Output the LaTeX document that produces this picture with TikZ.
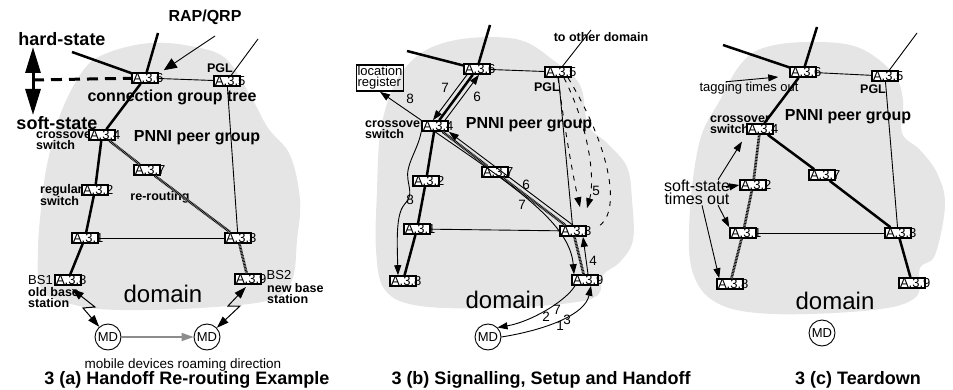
\documentclass[tikz,border=0pt]{standalone}
\usepackage{fontspec}
\setmainfont{Liberation Sans}
\usetikzlibrary{positioning, arrows.meta}
\definecolor{cloud}{RGB}{229,229,229}
\tikzset{
  sw/.style={rectangle, draw=black, line width=1.6pt, fill=white, inner xsep=1pt, inner ysep=0pt, minimum height=10pt, text width=24pt, align=left, font=\fontsize{13}{12}\selectfont},
  mdev/.style={circle, draw=black, line width=0.9pt, fill=white, minimum size=26pt, inner sep=0pt, font=\fontsize{13}{13}\selectfont},
  treeline/.style={line width=2.5pt},
  peer/.style={line width=0.9pt},
  rr/.style={draw=black!35, line width=2.6pt, postaction={draw=black, line width=2.6pt, dash pattern=on 0.7pt off 0.8pt}},
  arr/.style={line width=0.9pt, -{Triangle[length=10pt,width=7pt]}},
  lbl/.style={font=\fontsize{12.5}{11}\selectfont\bfseries, align=left, inner sep=0pt},
  big/.style={font=\fontsize{16}{16}\selectfont\bfseries, inner sep=0pt},
  hstate/.style={font=\fontsize{18}{18}\selectfont\bfseries, inner sep=0pt},
  note/.style={font=\fontsize{13}{11}\selectfont, inner sep=0pt, align=left},
  num/.style={font=\fontsize{13.5}{13.5}\selectfont, inner sep=0pt},
  caption/.style={font=\fontsize{18}{18}\selectfont\bfseries, inner sep=0pt, anchor=base},
  dom/.style={font=\fontsize{24}{24}\selectfont, inner sep=0pt},
  wl/.style={line width=1pt, {Triangle[length=12pt,width=8pt]}-{Triangle[length=12pt,width=8pt]}},
  dash5/.style={line width=0.9pt, dash pattern=on 5pt off 6pt},
}

\begin{document}
\begin{tikzpicture}[x=1pt, y=-1pt]
\useasboundingbox (0,0) rectangle (953,390);

\fill[cloud] plot[smooth cycle, tension=0.6] coordinates {(110,52) (150,43) (190,46) (225,58) (250,95) (268,128) (290,155) (300,200) (297,240) (292,280) (270,300) (200,308) (120,310) (75,305) (42,290) (38,250) (42,200) (48,160) (62,110) (85,68)};
\fill[cloud] plot[smooth cycle, tension=0.6] coordinates {(430,48) (470,38) (520,40) (553,60) (580,85) (588,125) (607,143) (627,167) (632,200) (633,240) (620,262) (603,275) (598,295) (570,303) (500,308) (420,306) (385,290) (376,250) (377,190) (380,135) (390,95) (405,68)};
\fill[cloud] plot[smooth cycle, tension=0.6] coordinates {(740,65) (763,48) (807,42) (857,47) (893,73) (903,100) (902,133) (920,150) (937,173) (945,205) (935,255) (920,268) (916,297) (873,310) (773,314) (717,303) (692,270) (690,210) (700,140) (720,100)};

% 3 (a)
\node[hstate] (hard) at (62,39) {hard-state};
\node[hstate] (soft) at (57,123) {soft-state};
\node[big] (rap) at (205,17) {RAP/QRP};
\node[lbl] (apgl) at (220,68) {PGL};
\node[big] (cgt) at (172,97) {connection group tree};
\node[big] (apnni) at (197,138) {PNNI peer group};
\node[lbl, anchor=west] (across) at (36,141) {crossover\\switch};
\node[lbl, anchor=west] (areg) at (40,195) {regular\\switch};
\node[lbl] (reroute) at (160,197) {re-routing};
\node[note] (bs1) at (40.5,280) {BS1};
\node[lbl, anchor=north west] (aold) at (28,287) {old base\\station};
\node[note] (bs2) at (279,275) {BS2};
\node[lbl, anchor=north west] (anew) at (267,283) {new base\\station};
\node[dom] (adom) at (163,294) {domain};
\node[note, anchor=base, font=\fontsize{13.5}{13.5}\selectfont] (roam) at (183,368) {mobile devices roaming direction};
\node[caption] (capa) at (187,384) {3 (a) Handoff Re-routing Example};

\node[sw] (a6) at (145,78) {A.3.6};
\node[sw] (a5) at (227,81) {A.3.5};
\node[sw] (a4) at (102,135) {A.3.4};
\node[sw] (a7) at (147,170) {A.3.7};
\node[sw] (a2) at (95,190) {A.3.2};
\node[sw] (a1) at (85,238) {A.3.1};
\node[sw] (a3) at (238,238) {A.3.3};
\node[sw] (a8) at (68,280) {A.3.8};
\node[sw] (a9) at (248,279) {A.3.9};
\node[mdev] (amd1) at (108,337) {MD};
\node[mdev] (amd2) at (207,337) {MD};

\coordinate (aup) at (158,33);
\coordinate (aleft) at (72,52);
\coordinate (aout) at (258,39);
\coordinate (arap) at (215,36);
\coordinate (hstop) at (33,47);
\coordinate (hsbot) at (33,115);
\coordinate (hsmid) at (33,80);

\draw[treeline] (a6) -- (aup);
\draw[treeline] (aleft) -- (a6);
\draw[peer] (a6) -- (a5);
\draw[peer] (a5) -- (aout);
\draw[peer] (a5) -- (a3);
\draw[peer] (a1) -- (a3);
\draw[treeline] (a6) -- (a4);
\draw[treeline] (a4) -- (a2);
\draw[treeline] (a2) -- (a1);
\draw[treeline] (a1) -- (a8);
\draw[rr] (a4) -- (a7);
\draw[rr] (a7) -- (a3);
\draw[rr] (a3) -- (a9);
\draw[line width=0.9pt, -{Triangle[length=13pt,width=11pt]}] (arap) -- ([xshift=5pt,yshift=2pt]a6.north east);
\draw[line width=3pt, dash pattern=on 11pt off 7pt] (hsmid) -- (a6);
\draw[line width=3pt, {Triangle[length=26pt,width=15pt]}-{Triangle[length=26pt,width=15pt]}] (hstop) -- (hsbot);
\draw[wl, shorten <=5pt] (a8.south) -- (95,307) -- (83,308) -- (amd1);
\draw[wl, shorten >=3pt] (amd2) -- (240,306) -- (228,306) -- (a9.south);
\draw[black!45, line width=1.5pt, -{Triangle[length=12pt,width=8pt]}] (amd1) -- (amd2);

% 3 (b)
\node[rectangle, draw=black, line width=1.6pt, inner xsep=1pt, inner ysep=1.5pt, font=\fontsize{13}{11}\selectfont, align=left] (loc) at (380,78) {location\\register};
\node[lbl] (other) at (601,37) {to other domain};
\node[lbl] (bpgl) at (547,87) {PGL};
\node[lbl, anchor=west] (bcross) at (365,130) {crossover\\switch};
\node[big] (bpnni) at (529,125) {PNNI peer group};
\node[dom] (bdom) at (505,300) {domain};
\node[caption] (capb) at (541,384) {3 (b) Signalling, Setup and Handoff};

\node[sw] (b6) at (477,69) {A.3.6};
\node[sw] (b5) at (558,72) {A.3.5};
\node[sw] (b4) at (435,126) {A.3.4};
\node[sw] (b7) at (495,172) {A.3.7};
\node[sw] (b2) at (426,181) {A.3.2};
\node[sw] (b1) at (417,229) {A.3.1};
\node[sw] (b3) at (573,231) {A.3.3};
\node[sw] (b8) at (403,281) {A.3.8};
\node[sw] (b9) at (585,280) {A.3.9};
\node[mdev] (bmd) at (488,337) {MD};

\node[num] (n7a) at (445,88) {7};
\node[num] (n6a) at (477,97) {6};
\node[num] (n8a) at (410,99) {8};
\node[num] (n6b) at (526,185) {6};
\node[num] (n7b) at (522,205) {7};
\node[num] (n5) at (596,191) {5};
\node[num] (n4) at (593,261) {4};
\node[num] (n8b) at (410,200) {8};
\node[num] (n2) at (546,317) {2};
\node[num] (n7c) at (557,310) {7};
\node[num] (n1) at (560,326) {1};
\node[num] (n3) at (567,320) {3};

\coordinate (bup) at (490,25);
\coordinate (bleft) at (407,51);
\coordinate (bout) at (591,30);

\draw[treeline] (b6) -- (bup);
\draw[treeline] (bleft) -- (b6);
\draw[peer] (b6) -- (b5);
\draw[peer] (b5) -- (bout);
\draw[peer] (b5) -- (b3);
\draw[peer] (b1) -- (b3);
\draw[treeline] (b6) -- (b4);
\draw[treeline] (b4) -- (b2);
\draw[treeline] (b2) -- (b1);
\draw[treeline] (b1) -- (b8);
\draw[rr] (b4) -- (b7);
\draw[rr] (b7) -- (b3);
\draw[rr] (b3) -- (b9);
\draw[arr] ([xshift=-10pt]b6.south) -- ([xshift=-2pt]b4.north);
\draw[arr] ([xshift=10pt]b4.north) -- ([xshift=2pt]b6.south);
\draw[arr] (b4.north west) -- (loc.south);
\draw[arr] (b4.south west) .. controls (418,150) and (405,165) .. (408,180) .. controls (410,192) and (412,196) .. (404,205) .. controls (396,215) and (397,240) .. ([xshift=-5pt]b8.north);
\draw[arr] (b3.north) -- (b4.south east);
\draw[arr] (b4.south) .. controls (520,190) and (570,225) .. ([xshift=-11pt]b9.north);
\draw[arr] ([xshift=3pt]b9.north) -- ([xshift=10pt]b3.south);
\draw[dash5, -{Triangle[length=10pt,width=7pt]}] (b5.south) .. controls (566,140) and (575,185) .. ([xshift=7pt,yshift=18pt]b3.north);
\draw[dash5, -{Triangle[length=10pt,width=7pt]}] ([xshift=6pt]b5.south) .. controls (590,130) and (595,180) .. ([xshift=14pt,yshift=17pt]b3.north);
\draw[dash5] ([xshift=10pt]b5.south) .. controls (612,150) and (622,215) .. ([xshift=24pt,yshift=-2pt]b3.north);
\draw[arr] ([xshift=-10pt]b9.south) .. controls (565,302) and (530,322) .. (bmd.north east);
\draw[arr] (bmd.east) .. controls (545,330) and (585,315) .. ([xshift=6pt]b9.south);

% 3 (c)
\node[note] (tag) at (749,88) {tagging times out};
\node[lbl] (cpgl) at (873,89) {PGL};
\node[lbl, anchor=west] (ccross) at (710,125) {crossover\\switch};
\node[big] (cpnni) at (848,117) {PNNI peer group};
\node[note, font=\fontsize{16}{13.5}\selectfont, align=center] (ss) at (697,192.5) {soft-state\\times out};
\node[dom] (cdom) at (835,301) {domain};
\node[caption] (capc) at (858,384) {3 (c) Teardown};

\node[sw] (c6) at (803,72) {A.3.6};
\node[sw] (c5) at (885,76) {A.3.5};
\node[sw] (c4) at (760,129) {A.3.4};
\node[sw] (c7) at (822,175) {A.3.7};
\node[sw] (c2) at (753,185) {A.3.2};
\node[sw] (c1) at (743,233) {A.3.1};
\node[sw] (c3) at (898,233) {A.3.3};
\node[sw] (c8) at (730,284) {A.3.8};
\node[sw] (c9) at (912,283) {A.3.9};
\node[mdev] (cmd) at (822,333) {MD};

\coordinate (cup) at (817,27);
\coordinate (cleft) at (723,45);
\coordinate (cout) at (917,33);

\draw[treeline] (c6) -- (cup);
\draw[treeline] (cleft) -- (c6);
\draw[peer] (c6) -- (c5);
\draw[peer] (c5) -- (cout);
\draw[peer] (c5) -- (c3);
\draw[peer] (c1) -- (c3);
\draw[treeline] (c6) -- (c4);
\draw[treeline] (c4) -- (c7);
\draw[treeline] (c7) -- (c3);
\draw[treeline] (c3) -- (c9);
\draw[rr] (c4) -- (c2);
\draw[rr] (c2) -- (c1);
\draw[rr] (c1) -- (c8);
\draw[arr, shorten >=11pt] ([xshift=-23pt]tag.north) -- ([yshift=-4pt]c6.west);
\draw[arr, shorten >=8pt] ([xshift=-12pt]ss.north east) -- (c4.south west);
\draw[arr] ([xshift=-4pt,yshift=5pt]ss.east) -- (c2.west);
\draw[arr] ([xshift=-12pt]ss.south east) -- (c1.north west);
\draw[arr] ([xshift=5pt]ss.south) -- ([xshift=3pt]c8.north west);
\end{tikzpicture}
\end{document}
